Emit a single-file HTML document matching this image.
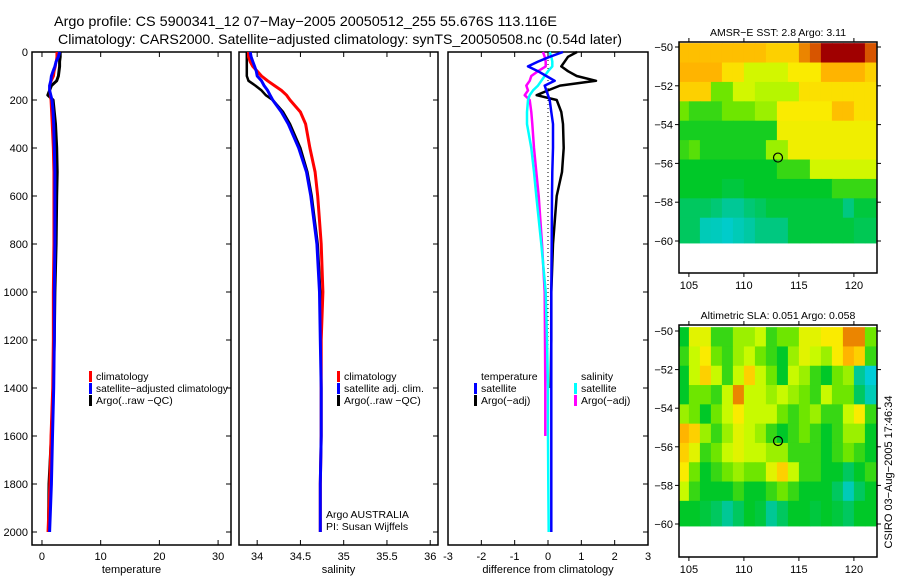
<!DOCTYPE html>
<html><head><meta charset="utf-8"><style>
body{margin:0;background:#fff}
svg{display:block;font-family:"Liberation Sans",sans-serif}
</style></head><body>
<svg id="c" width="900" height="580" viewBox="0 0 900 580" xmlns="http://www.w3.org/2000/svg">
<text x="54" y="26" font-size="14" textLength="503" lengthAdjust="spacingAndGlyphs">Argo profile: CS 5900341_12 07−May−2005 20050512_255 55.676S 113.116E</text>
<text x="58" y="44" font-size="14" textLength="564" lengthAdjust="spacingAndGlyphs">Climatology: CARS2000. Satellite−adjusted climatology: synTS_20050508.nc (0.54d later)</text>
<g id="g"></g>
</svg>
<script>
const NS="http://www.w3.org/2000/svg";
const root=document.getElementById('g');
function mk(tag,attrs,parent){const e=document.createElementNS(NS,tag);for(const k in attrs)e.setAttribute(k,attrs[k]);(parent||root).appendChild(e);return e;}

// ---- data ----
const depthTicks=[0,200,400,600,800,1000,1200,1400,1600,1800,2000];
const tempTicks=[0,10,20,30];
const salTicks=[34,34.5,35,35.5,36];
const diffTicks=[-3,-2,-1,0,1,2,3];
const depths=[0,20,40,60,80,100,120,140,160,180,200,250,300,400,500,600,800,1000,1200,1400,1600,1800,2000];
const tempClim=[2.5,2.5,2.4,2.3,2.1,2.0,1.6,1.3,1.3,1.4,1.5,1.6,1.7,1.9,2.0,2.0,2.0,1.9,1.9,1.8,1.5,1.3,1.0];
const tempSat=[3.0,2.8,2.4,2.2,1.9,1.6,1.5,1.3,1.3,1.5,1.7,1.9,2.0,2.1,2.2,2.2,2.2,2.1,2.1,2.0,1.8,1.6,1.3];
const tempArgo=[3.1,3.1,3.0,3.0,2.9,2.8,2.5,1.6,1.3,1.0,1.9,2.1,2.3,2.5,2.6,2.5,2.4,2.2,2.1,1.9,1.6,1.2,1.1];
const salClim=[33.9,33.9,33.92,33.95,34.0,34.05,34.12,34.2,34.28,34.34,34.38,34.5,34.56,34.61,34.67,34.7,34.74,34.76,34.74,34.74,34.74,34.73,34.73];
const salSat=[33.92,33.93,33.95,33.97,33.99,34.0,34.05,34.08,34.12,34.15,34.18,34.28,34.36,34.48,34.57,34.62,34.69,34.72,34.73,34.74,34.74,34.73,34.73];
const salArgo=[33.88,33.88,33.88,33.88,33.88,33.88,33.9,33.98,34.05,34.1,34.18,34.3,34.38,34.5,34.58,34.63,34.7,34.73,34.74,34.74,34.74,34.73,34.73];
const dTempSat=[0.45,0.05,-0.3,-0.6,-0.3,-0.05,0.2,-0.1,-0.05,0.0,0.05,0.1,0.15,0.15,0.13,0.12,0.11,0.1,0.1,0.1,0.1,0.1,0.1];
const dTempArgo=[0.87,0.6,0.5,0.4,0.6,0.86,1.44,0.36,0.0,-0.34,0.26,0.4,0.45,0.47,0.42,0.26,0.15,0.1,0.1,0.08,null,null,null];
const dSalSat=[0.05,0.1,0.13,0.13,0.0,-0.1,-0.2,-0.3,-0.45,-0.55,-0.6,-0.63,-0.63,-0.5,-0.42,-0.35,-0.2,-0.07,-0.03,0.0,0.0,0.01,0.02];
const dSalArgo=[-0.15,-0.1,-0.07,-0.07,-0.3,-0.5,-0.55,-0.65,-0.6,-0.7,-0.55,-0.5,-0.47,-0.42,-0.35,-0.28,-0.18,-0.1,-0.09,-0.08,-0.08,null,null];

const lonTicks=[105,110,115,120];
const latTicks=[-50,-52,-54,-56,-58,-60];
const argoLon=113.1, argoLat=-55.7;
const sstGrid=[
[.78,.78,.78,.78,.78,.78,.78,.78,.75,.75,.75,.85,.9,1,1,1,1,.9],
[.8,.8,.8,.8,.72,.72,.62,.62,.62,.62,.7,.7,.7,.8,.8,.8,.8,.75],
[.75,.75,.75,.5,.5,.62,.62,.58,.58,.58,.58,.72,.72,.72,.72,.72,.72,.72],
[.5,.45,.45,.45,.5,.5,.5,.55,.55,.7,.7,.7,.7,.7,.78,.78,.72,.72],
[.42,.42,.42,.42,.42,.42,.42,.42,.42,.68,.68,.68,.68,.68,.68,.68,.68,.68],
[.45,.48,.42,.42,.42,.42,.42,.42,.55,.55,.68,.68,.68,.68,.68,.68,.68,.68],
[.4,.4,.4,.4,.4,.4,.4,.4,.4,.45,.45,.45,.62,.62,.62,.62,.62,.62],
[.4,.4,.4,.4,.38,.38,.4,.4,.4,.4,.4,.4,.4,.4,.45,.45,.45,.45],
[.35,.35,.35,.33,.3,.3,.33,.35,.38,.38,.38,.38,.38,.38,.38,.32,.38,.38],
[.35,.35,.25,.24,.22,.25,.28,.32,.32,.32,.38,.38,.38,.38,.38,.38,.36,.36]];
const slaGrid=[
[.4,.65,.65,.45,.45,.55,.55,.6,.45,.5,.5,.65,.65,.7,.7,.85,.85,.5],
[.45,.6,.7,.5,.45,.55,.6,.5,.45,.4,.55,.65,.6,.55,.7,.8,.75,.45],
[.4,.6,.75,.6,.45,.6,.75,.6,.5,.4,.6,.55,.45,.4,.5,.55,.3,.2],
[.4,.5,.5,.45,.6,.85,.6,.6,.55,.6,.55,.5,.45,.6,.5,.5,.35,.25],
[.55,.5,.4,.5,.6,.7,.6,.6,.6,.5,.45,.5,.55,.45,.45,.6,.7,.45],
[.8,.75,.55,.45,.55,.65,.6,.55,.45,.4,.45,.5,.45,.4,.45,.55,.55,.4],
[.75,.65,.45,.5,.6,.65,.6,.6,.55,.55,.45,.45,.45,.4,.45,.5,.45,.4],
[.7,.5,.4,.45,.5,.55,.5,.5,.65,.75,.6,.45,.45,.4,.4,.35,.4,.45],
[.6,.45,.4,.4,.4,.45,.4,.4,.45,.5,.45,.4,.4,.4,.35,.25,.35,.4],
[.4,.4,.38,.35,.3,.35,.4,.38,.3,.35,.4,.4,.38,.4,.38,.35,.4,.4]];

// ---- profile panels ----
const yTop=52, yBot=545, dPx=0.24;
const yD=d=>yTop+d*dPx;
function panel(name,x0,x1,vmin,vmax,ticks,label,showY){
  const sx=v=>x0+(v-vmin)/(vmax-vmin)*(x1-x0);
  const g=mk('g',{});
  
  
  const fr=mk('rect',{x:x0,y:yTop,width:x1-x0,height:yBot-yTop,fill:'none',stroke:'#000','stroke-width':1.5},g);
  
  
  ticks.forEach(t=>{
    const x=sx(t);
    mk('line',{x1:x,x2:x,y1:yBot,y2:yBot-5,stroke:'#000'},g);
    mk('line',{x1:x,x2:x,y1:yTop,y2:yTop+5,stroke:'#000'},g);
    const tl=mk('text',{x:x,y:yBot+15,'font-size':11,'text-anchor':'middle'},g);
    
    
    tl.textContent=String(t);
  });
  depthTicks.forEach(d=>{
    mk('line',{x1:x1,x2:x1-5,y1:yD(d),y2:yD(d),stroke:'#000'},g);
    if(showY){
      mk('line',{x1:x0,x2:x0+5,y1:yD(d),y2:yD(d),stroke:'#000'},g);
      const yl=mk('text',{x:x0-4,y:yD(d)+4,'font-size':11,'text-anchor':'end'},g);
      
      
      yl.textContent=String(d);
    }
  });
  const al=mk('text',{x:(x0+x1)/2,y:yBot+28,'font-size':11,'text-anchor':'middle'},g);
  
  
  al.textContent=label;
  return {sx,g};
}
function series(p,vals,color,w,name){
  let d='',pen=false;
  vals.forEach((v,i)=>{
    if(v===null){pen=false;return;}
    d+=(pen?'L':'M')+p.sx(v).toFixed(1)+','+yD(depths[i]).toFixed(1);pen=true;
  });
  const e=mk('path',{d:d,fill:'none',stroke:color,'stroke-width':w,'stroke-linejoin':'round'},p.g);
  
  
}
function legend(p,x,y,items){
  items.forEach((it,i)=>{
    const yy=y+i*12;
    if(it[0]) mk('rect',{x:x,y:yy-9,width:3,height:11,fill:it[0]},p.g);
    const t=mk('text',{x:x+7,y:yy,'font-size':10.5},p.g);
    
    
    t.textContent=it[1];
    if(it[2]){t.setAttribute('textLength',it[2]);t.setAttribute('lengthAdjust','spacingAndGlyphs');}
  });
}
const p1=panel('temperature-panel',32,231,-1.7,32.2,tempTicks,'temperature',true);
series(p1,tempArgo,'#000',3,'argo-temperature-line');
series(p1,tempClim,'#f00',2.5,'climatology-temperature-line');
series(p1,tempSat,'#00f',3,'satellite-temperature-line');
legend(p1,89,380,[['#f00','climatology'],['#00f','satellite−adjusted climatology',132],['#000','Argo(..raw −QC)']]);

const p2=panel('salinity-panel',239,438,33.79,36.09,salTicks,'salinity',false);
series(p2,salArgo,'#000',2.5,'argo-salinity-line');
series(p2,salClim,'#f00',3,'climatology-salinity-line');
series(p2,salSat,'#00f',3,'satellite-salinity-line');
legend(p2,337,380,[['#f00','climatology'],['#00f','satellite adj. clim.'],['#000','Argo(..raw −QC)']]);
legend(p2,319,518,[[null,'Argo AUSTRALIA'],[null,'PI: Susan Wijffels']]);

const p3=panel('difference-panel',448,648,-3,3,diffTicks,'difference from climatology',false);
mk('line',{x1:p3.sx(0),x2:p3.sx(0),y1:yD(0),y2:yD(2000),stroke:'#000','stroke-dasharray':'1,3'},p3.g);
series(p3,dTempArgo,'#000',2.5,'argo-temp-diff-line');
series(p3,dSalArgo,'#f0f',2.5,'argo-sal-diff-line');
series(p3,dSalSat,'#0ff',2.5,'satellite-sal-diff-line');
series(p3,dTempSat,'#00f',2.5,'satellite-temp-diff-line');
legend(p3,474,380,[[null,'temperature'],['#00f','satellite'],['#000','Argo(−adj)']]);
legend(p3,574,380,[[null,'salinity'],['#0ff','satellite'],['#f0f','Argo(−adj)']]);

// ---- maps ----
const stops=[[0.2,[0,205,215]],[0.3,[0,200,150]],[0.4,[0,200,40]],[0.5,[110,230,0]],[0.6,[200,250,0]],[0.7,[250,235,0]],[0.8,[255,180,0]],[0.9,[215,85,0]],[1.0,[160,0,0]]];
function cmap(v){
  if(v<=stops[0][0])return 'rgb('+stops[0][1]+')';
  for(let i=1;i<stops.length;i++){if(v<=stops[i][0]){const a=stops[i-1],b=stops[i],t=(v-a[0])/(b[0]-a[0]);
    return 'rgb('+a[1].map((c,k)=>Math.round(c+(b[1][k]-c)*t)).join(',')+')';}}
  return 'rgb('+stops[stops.length-1][1]+')';
}
function map(name,top,bot,latTopPx,lat60Px,grid,title){
  const L=679,R=877,lon0=104.1,lon1=122.1;
  const sx=lon=>L+(lon-lon0)/(lon1-lon0)*(R-L);
  const pd=(lat60Px-latTopPx)/10;
  const sy=lat=>latTopPx+(-50-lat)*pd;
  const g=mk('g',{});
  
  
  const lonSrc=[104,105,106,107,108,109,110,111,112,113,114,115,116,117,118,119,120,121];
  grid.forEach((row,r)=>row.forEach((v,c)=>{
    const x=Math.max(L,sx(lonSrc[c])), x2=Math.min(R,sx(lonSrc[c]+1));
    const y=Math.max(top,sy(-49.8-r)), y2=r===grid.length-1?sy(-60.1):sy(-50.8-r);
    const cell=mk('rect',{x:x,y:y,width:x2-x+0.5,height:y2-y+0.5,fill:cmap(v)},g);
    
    
  }));
  const fr=mk('rect',{x:L,y:top,width:R-L,height:bot-top,fill:'none',stroke:'#000','stroke-width':1.5},g);
  
  
  lonTicks.forEach(t=>{
    mk('line',{x1:sx(t),x2:sx(t),y1:bot,y2:bot+4,stroke:'#000'},g);
    mk('line',{x1:sx(t),x2:sx(t),y1:top,y2:top-4,stroke:'#000'},g);
    const tl=mk('text',{x:sx(t),y:bot+16,'font-size':11,'text-anchor':'middle'},g);
    
    
    tl.textContent=String(t);
  });
  latTicks.forEach(t=>{
    mk('line',{x1:L,x2:L-4,y1:sy(t),y2:sy(t),stroke:'#000'},g);
    mk('line',{x1:R,x2:R+4,y1:sy(t),y2:sy(t),stroke:'#000'},g);
    const tl=mk('text',{x:L-6,y:sy(t)+4,'font-size':11,'text-anchor':'end'},g);
    
    
    tl.textContent=String(t).replace('-','−');
  });
  const c=mk('circle',{cx:sx(argoLon),cy:sy(argoLat),r:4.5,fill:'none',stroke:'#000','stroke-width':1.2},g);
  
  
  const tt=mk('text',{x:(L+R)/2,y:top-6,'font-size':10.5,'text-anchor':'middle'},g);
  
  
  tt.textContent=title;
}
map('sst-map',42,273,47,241,sstGrid,'AMSR−E SST: 2.8 Argo: 3.11');
map('sla-map',325,557,331,524,slaGrid,'Altimetric SLA: 0.051 Argo: 0.058');
const st=mk('text',{x:892,y:472,'font-size':11,'text-anchor':'middle',transform:'rotate(-90 892 472)'});


st.textContent='CSIRO 03−Aug−2005 17:46:34';
</script>
</body></html>
